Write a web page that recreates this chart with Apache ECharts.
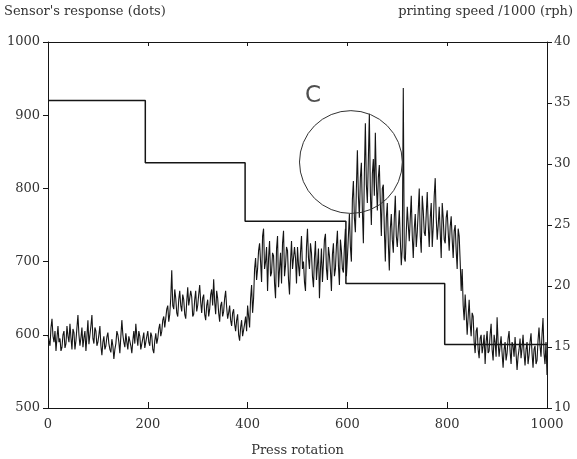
<!DOCTYPE html>
<html>
<head>
<meta charset="utf-8">
<script src="https://cdn.jsdelivr.net/npm/echarts@6/dist/echarts.min.js"></script>
<style>
  html, body { margin: 0; padding: 0; background: #fff; }
  #chart { width: 577px; height: 459px; }
</style>
</head>
<body>
<div id="chart"></div>
<script>
// Sensor response (dots), one reading every 2 press rotations from 0 to 1000
const SAMPLE_STEP = 2;
const sensorResponse = [
  // 0 - 98
  600,592,585,610,622,598,590,605,578,596, 612,590,595,578,583,600,605,582,588,612,
  598,590,615,596,580,608,603,580,592,610, 627,600,585,596,610,583,596,605,578,598,
  620,587,600,612,627,595,588,610,605,585,
  // 100 - 198
  590,600,612,585,572,590,598,580,585,597, 603,588,580,576,594,585,567,580,588,605,
  600,590,575,598,620,600,590,583,602,590, 580,598,596,585,575,592,605,588,615,598,
  585,605,598,580,578,595,603,582,590,598,
  // 200 - 298
  605,590,585,603,598,580,575,592,602,588, 595,608,615,598,605,620,625,610,612,635,
  640,618,628,650,688,640,635,662,650,630, 625,648,660,640,632,655,648,628,622,645,
  665,640,638,660,652,625,628,648,660,632,
  // 300 - 398
  640,655,668,645,630,650,655,628,620,640, 648,625,635,655,662,640,676,645,628,660,
  650,630,618,640,645,625,632,650,660,638, 622,630,640,620,612,630,635,615,605,620,
  628,600,592,610,620,598,600,615,625,605,
  // 400 - 498
  640,625,610,650,668,630,650,690,705,675, 690,715,725,700,672,735,745,690,700,720,
  660,705,728,680,685,712,708,670,650,718, 735,665,690,712,670,725,742,680,695,720,
  715,675,655,700,728,690,688,720,705,670,
  // 500 - 598
  720,695,680,712,735,690,700,672,660,720, 745,705,690,725,712,680,665,705,728,675,
  695,718,650,690,718,672,700,730,738,690, 675,720,708,688,660,710,725,680,690,722,
  742,695,668,730,715,690,685,720,745,680,
  // 600 - 698
  705,735,765,720,700,785,810,760,740,800, 852,790,760,815,835,770,725,820,889,805,
  780,840,902,795,750,820,840,790,876,808, 770,815,832,780,735,800,805,745,700,760,
  780,725,688,745,765,730,712,760,790,735,
  // 700 - 798
  720,745,770,730,695,720,937,705,700,740, 775,750,728,760,790,735,705,745,765,720,
  740,770,800,735,712,790,770,740,735,765, 795,750,720,760,780,720,748,790,814,760,
  730,750,775,740,705,780,760,730,725,760,
  // 800 - 898
  770,740,715,748,762,730,705,742,750,715, 690,745,735,700,660,690,640,620,655,630,
  600,625,648,615,598,630,625,590,575,605, 610,580,568,595,600,575,585,600,560,590,
  605,575,578,600,615,580,565,600,590,570,
  // 900 - 1000
  624,590,570,585,598,575,555,580,590,565, 575,595,605,578,560,590,585,570,597,575,
  552,570,580,595,568,582,600,575,558,580, 590,560,572,590,602,575,555,580,585,560,
  565,592,610,585,570,600,623,575,560,590, 545
];

// Printing speed /1000 (rph): rotation where each level starts, and the level
const speedChangeAt = [0, 195, 395, 597, 795, 1000];
const speedLevel    = [35.2, 30.1, 25.3, 20.2, 15.2, 15.2];

// Highlighted zone "C": centre (rotation, dots) and radius in rotations
const zoneLabel = 'C';
const zoneCentre = [607, 836];
const zoneRadius = 103;
const zoneLabelAt = [531, 926];

// Axis ranges: [min, max, interval]
const xRange = [0, 1000, 200];
const leftRange = [500, 1000, 100];
const rightRange = [10, 40, 5];

const sensorPoints = sensorResponse.map((v, i) => [i * SAMPLE_STEP, v]);
const speedPoints = speedChangeAt.map((x, i) => [x, speedLevel[i]]);

const serif = '"DejaVu Serif", "Liberation Serif", serif';
const ink = '#151515';
const textInk = '#333';
const plain = v => String(v);

const chart = echarts.init(document.getElementById('chart'), null, { renderer: 'canvas' });

chart.setOption({
  backgroundColor: '#fff',
  animation: false,
  grid: { left: 48, right: 30, top: 42, bottom: 51, containLabel: false, outerBoundsMode: 'none' },
  xAxis: [
    {
      type: 'value', min: xRange[0], max: xRange[1], interval: xRange[2],
      position: 'bottom',
      name: 'Press rotation', nameLocation: 'middle', nameGap: 36,
      nameTextStyle: { fontFamily: serif, fontSize: 13, color: textInk },
      axisLine: { show: true, onZero: false, lineStyle: { color: ink, width: 1 } },
      axisTick: { show: true, inside: true, length: 6, lineStyle: { color: ink } },
      axisLabel: { fontFamily: serif, fontSize: 13, color: textInk, margin: 10, formatter: plain },
      splitLine: { show: false }
    },
    {
      type: 'value', min: xRange[0], max: xRange[1], interval: xRange[2],
      position: 'top',
      axisLine: { show: true, onZero: false, lineStyle: { color: ink, width: 1 } },
      axisTick: { show: true, inside: true, length: 4, lineStyle: { color: ink } },
      axisLabel: { show: false },
      splitLine: { show: false }
    }
  ],
  yAxis: [
    {
      type: 'value', min: leftRange[0], max: leftRange[1], interval: leftRange[2],
      position: 'left',
      name: "Sensor's response (dots)", nameLocation: 'end', nameGap: 30,
      nameTextStyle: { fontFamily: serif, fontSize: 13, color: textInk, align: 'left', verticalAlign: 'middle', padding: [0, 0, 0, -44] },
      axisLine: { show: true, onZero: false, lineStyle: { color: ink, width: 1 } },
      axisTick: { show: true, inside: false, length: 5, lineStyle: { color: ink } },
      axisLabel: { fontFamily: serif, fontSize: 13, color: textInk, margin: 8, formatter: plain },
      splitLine: { show: false }
    },
    {
      type: 'value', min: rightRange[0], max: rightRange[1], interval: rightRange[2],
      position: 'right',
      name: 'printing speed /1000 (rph)', nameLocation: 'end', nameGap: 30,
      nameTextStyle: { fontFamily: serif, fontSize: 13, color: textInk, align: 'right', verticalAlign: 'middle', padding: [0, -26, 0, 0] },
      axisLine: { show: true, onZero: false, lineStyle: { color: ink, width: 1 } },
      axisTick: { show: true, inside: false, length: 5, lineStyle: { color: ink } },
      axisLabel: { fontFamily: serif, fontSize: 13, color: textInk, margin: 7, formatter: plain },
      splitLine: { show: false }
    }
  ],
  series: [
    {
      name: 'sensor',
      type: 'line',
      xAxisIndex: 0, yAxisIndex: 0,
      data: sensorPoints,
      showSymbol: false,
      lineStyle: { color: ink, width: 1.1 },
      z: 2
    },
    {
      name: 'speed',
      type: 'line',
      xAxisIndex: 0, yAxisIndex: 1,
      data: speedPoints,
      step: 'end',
      showSymbol: false,
      lineStyle: { color: ink, width: 1.5 },
      z: 3
    },
    {
      name: 'zone',
      type: 'custom',
      xAxisIndex: 0, yAxisIndex: 0,
      data: [[zoneCentre[0], zoneCentre[1], zoneRadius]],
      renderItem: function (params, api) {
        const c = api.coord([api.value(0), api.value(1)]);
        const r = api.size([api.value(2), 0])[0];
        return {
          type: 'circle',
          shape: { cx: c[0], cy: c[1], r: r },
          style: { fill: 'none', stroke: '#333', lineWidth: 1 }
        };
      },
      z: 4
    },
    {
      name: 'zoneLabel',
      type: 'scatter',
      xAxisIndex: 0, yAxisIndex: 0,
      data: [zoneLabelAt],
      symbolSize: 0,
      label: {
        show: true, position: 'inside', formatter: zoneLabel,
        fontFamily: '"DejaVu Sans", "Noto Sans", sans-serif', fontSize: 23, color: '#222'
      },
      z: 5
    }
  ]
});
</script>
</body>
</html>
